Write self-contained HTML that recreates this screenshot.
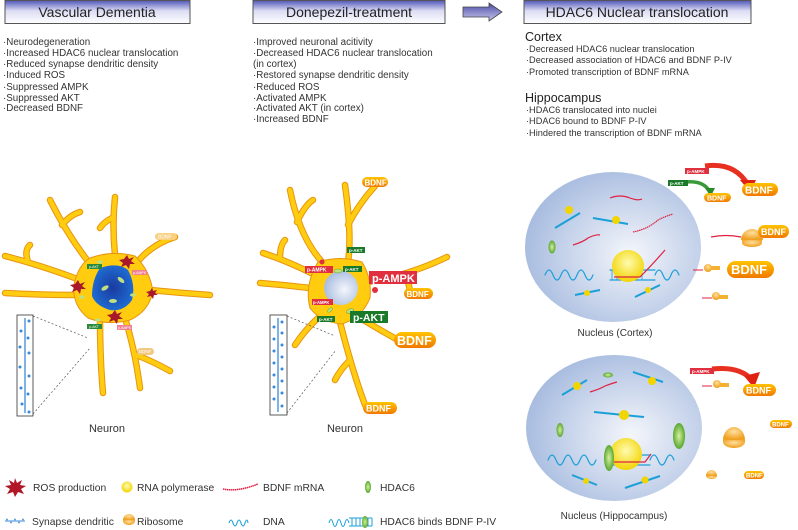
<!DOCTYPE html>
<html><head><meta charset="utf-8"><style>
html,body{margin:0;padding:0;background:#fff;}
svg{display:block;font-family:"Liberation Sans",sans-serif;}
</style></head><body>
<svg width="798" height="530" viewBox="0 0 798 530" xmlns="http://www.w3.org/2000/svg">
<defs>
<linearGradient id="hd" x1="0" y1="0" x2="0" y2="1"><stop offset="0" stop-color="#5058b8"/><stop offset="0.45" stop-color="#dcdcf4"/><stop offset="1" stop-color="#ffffff"/></linearGradient>
<linearGradient id="ar" x1="0" y1="0" x2="0" y2="1"><stop offset="0" stop-color="#4a4aa8"/><stop offset="1" stop-color="#c8c8ec"/></linearGradient>
<radialGradient id="nuc" cx="0.6" cy="0.55" r="0.6"><stop offset="0" stop-color="#f4f6fb"/><stop offset="1" stop-color="#a9bde0"/></radialGradient>
<radialGradient id="dn" cx="0.5" cy="0.5" r="0.5"><stop offset="0" stop-color="#1a3aa0"/><stop offset="1" stop-color="#1e6ad0"/></radialGradient>
<radialGradient id="pol" cx="0.5" cy="0.4" r="0.6"><stop offset="0" stop-color="#fffbb0"/><stop offset="1" stop-color="#f2d400"/></radialGradient>
<linearGradient id="bd" x1="0" y1="0" x2="0" y2="1"><stop offset="0" stop-color="#ffc400"/><stop offset="1" stop-color="#f07800"/></linearGradient>
<radialGradient id="rib" cx="0.5" cy="0.35" r="0.6"><stop offset="0" stop-color="#ffe0a0"/><stop offset="1" stop-color="#f0a020"/></radialGradient>
<radialGradient id="hd6" cx="0.5" cy="0.5" r="0.5"><stop offset="0" stop-color="#d8f0a0"/><stop offset="1" stop-color="#58a830"/></radialGradient>
</defs>

<rect x="5" y="0.5" width="185" height="23" fill="url(#hd)" stroke="#555"/>
<text x="97" y="17" font-size="14" text-anchor="middle" fill="#222">Vascular Dementia</text>
<rect x="253" y="0.5" width="192" height="23" fill="url(#hd)" stroke="#555"/>
<text x="349" y="17" font-size="14" text-anchor="middle" fill="#222">Donepezil-treatment</text>
<path d="M463 7 H489 V3 L502 12 L489 21 V17 H463 Z" fill="url(#ar)" stroke="#444" stroke-width="0.8"/>
<rect x="524" y="0.5" width="227" height="23" fill="url(#hd)" stroke="#555"/>
<text x="637" y="17" font-size="14" text-anchor="middle" fill="#222">HDAC6 Nuclear translocation</text>

<g font-size="9.8" fill="#333">
<text x="3" y="45">·Neurodegeneration</text>
<text x="3" y="56">·Increased HDAC6 nuclear translocation</text>
<text x="3" y="67">·Reduced synapse dendritic density</text>
<text x="3" y="78">·Induced ROS</text>
<text x="3" y="90">·Suppressed AMPK</text>
<text x="3" y="101">·Suppressed AKT</text>
<text x="3" y="111">·Decreased BDNF</text>
<text x="253" y="45">·Improved neuronal acitivity</text>
<text x="253" y="56">·Decreased HDAC6 nuclear translocation</text>
<text x="253" y="67"> (in cortex)</text>
<text x="253" y="78">·Restored synapse dendritic density</text>
<text x="253" y="90">·Reduced ROS</text>
<text x="253" y="101">·Activated AMPK</text>
<text x="253" y="111">·Activated AKT (in cortex)</text>
<text x="253" y="122">·Increased BDNF</text>
</g>
<g font-size="9.2" fill="#333">
<text x="526" y="52">·Decreased HDAC6 nuclear translocation</text>
<text x="526" y="63">·Decreased association of HDAC6 and BDNF P-IV</text>
<text x="526" y="75">·Promoted  transcription of BDNF mRNA</text>
<text x="526" y="113">·HDAC6 translocated into nuclei</text>
<text x="526" y="124">·HDAC6 bound to BDNF P-IV</text>
<text x="526" y="136">·Hindered the transcription of BDNF mRNA</text>
</g>
<text x="525" y="41" font-size="12.5" fill="#222">Cortex</text>
<text x="525" y="102" font-size="12.5" fill="#222">Hippocampus</text>

<!-- LEFT NEURON -->
<g fill="none" stroke-linecap="round" stroke-linejoin="round">
<g stroke="#e89410" stroke-width="6.5">
<path d="M95 270 Q70 240 50 200 M62 225 Q70 215 80 212 M80 280 Q40 265 5 256 M28 262 Q24 250 30 245 M78 295 Q40 295 5 293 M115 255 Q112 225 115 197 M112 218 Q104 222 100 228 M135 265 Q150 245 175 237 M150 290 Q180 293 210 295 M100 318 Q100 360 103 393 M125 318 Q135 350 140 388 M136 355 Q150 360 170 371"/>
</g>
<g stroke="#ffcc10" stroke-width="4.5">
<path d="M95 270 Q70 240 50 200 M62 225 Q70 215 80 212 M80 280 Q40 265 5 256 M28 262 Q24 250 30 245 M78 295 Q40 295 5 293 M115 255 Q112 225 115 197 M112 218 Q104 222 100 228 M135 265 Q150 245 175 237 M150 290 Q180 293 210 295 M100 318 Q100 360 103 393 M125 318 Q135 350 140 388 M136 355 Q150 360 170 371"/>
</g>
</g>
<path d="M90 258 Q112 250 135 256 Q150 270 153 292 Q148 312 130 320 Q108 326 88 318 Q72 305 74 285 Q78 265 90 258 Z" fill="#ffcc10" stroke="#e89410" stroke-width="1"/>
<path d="M100 268 Q118 262 128 270 Q136 285 132 300 Q124 312 110 310 Q96 306 92 296 Q92 280 100 268 Z" fill="url(#dn)"/>
<g fill="#bde080"><ellipse cx="105" cy="288" rx="4" ry="2" transform="rotate(-30 105 288)"/><ellipse cx="121" cy="280" rx="4" ry="2" transform="rotate(40 121 280)"/><ellipse cx="113" cy="301" rx="4" ry="2"/><ellipse cx="82" cy="297" rx="3" ry="1.6"/><ellipse cx="133" cy="295" rx="3" ry="1.6"/><ellipse cx="98" cy="320" rx="3" ry="1.6"/><ellipse cx="100" cy="262" rx="3" ry="1.6"/></g>
<g fill="#a8182a">
<polygon points="127,255 129,259 134,257 131,261 135,264 130,264 129,269 126,265 121,267 123,263 119,260 124,259"/>
<polygon points="78,280 80,284 85,282 82,286 86,289 81,289 80,294 77,290 72,292 74,288 70,285 75,284"/>
<polygon points="152,288 153,291 157,290 155,293 158,295 154,295 153,299 151,296 147,297 149,294 146,292 150,291"/>
<polygon points="115,310 117,314 122,312 119,316 123,319 118,319 117,324 114,320 109,322 111,318 107,315 112,314"/>
</g>
<g font-size="3.5" fill="#fff">
<rect x="87" y="264" width="15" height="5" fill="#2a8a3a"/><text x="89" y="268">p-AKT</text>
<rect x="132" y="270" width="15" height="5" fill="#f08090"/><text x="133" y="274">p-AMPK</text>
<rect x="87" y="324" width="15" height="5" fill="#2a8a3a"/><text x="89" y="328">p-AKT</text>
<rect x="117" y="325" width="15" height="5" fill="#f08090"/><text x="118" y="329">p-AMPK</text>
<rect x="155" y="233" width="22" height="7" rx="3.5" fill="#f8d080"/><text x="158" y="238.5" font-size="5">BDNF</text>
<rect x="137" y="348" width="17" height="7" rx="3.5" fill="#f0c880"/><text x="139" y="353" font-size="4.5">BDNF</text>
</g>
<rect x="17" y="315" width="16" height="101" fill="#fff" stroke="#333" stroke-width="0.8"/>
<path d="M25 318 V413" stroke="#3a8ad8" stroke-width="1.3"/>
<g fill="#3a8ad8"><circle cx="29" cy="321" r="1.5"/><circle cx="21" cy="331" r="1.5"/><circle cx="28" cy="338" r="1.5"/><circle cx="20" cy="347" r="1.5"/><circle cx="29" cy="353" r="1.5"/><circle cx="20" cy="367" r="1.5"/><circle cx="29" cy="376" r="1.5"/><circle cx="21" cy="388" r="1.5"/><circle cx="28" cy="394" r="1.5"/><circle cx="22" cy="404" r="1.5"/><circle cx="29" cy="412" r="1.5"/></g>
<path d="M33 316 L88 338 M33 414 L90 348" stroke="#555" stroke-width="0.7" stroke-dasharray="2,2"/>
<text x="107" y="432" font-size="11" fill="#333" text-anchor="middle">Neuron</text>

<!-- MIDDLE NEURON -->
<g fill="none" stroke-linecap="round" stroke-linejoin="round">
<g stroke="#e89410" stroke-width="6.5">
<path d="M325 265 Q300 240 290 190 M297 222 Q305 205 313 200 M348 262 Q352 235 345 185 M348 225 Q358 205 375 186 M315 275 Q290 262 263 253 M280 258 Q280 245 285 240 M310 288 Q285 285 260 283 M368 282 Q410 275 447 257 M405 275 Q410 285 410 294 M360 318 Q380 330 398 340 M340 322 Q352 370 365 405 M350 360 Q340 370 335 380 M318 318 Q305 330 295 345"/>
</g>
<g stroke="#ffcc10" stroke-width="4.5">
<path d="M325 265 Q300 240 290 190 M297 222 Q305 205 313 200 M348 262 Q352 235 345 185 M348 225 Q358 205 375 186 M315 275 Q290 262 263 253 M280 258 Q280 245 285 240 M310 288 Q285 285 260 283 M368 282 Q410 275 447 257 M405 275 Q410 285 410 294 M360 318 Q380 330 398 340 M340 322 Q352 370 365 405 M350 360 Q340 370 335 380 M318 318 Q305 330 295 345"/>
</g>
</g>
<path d="M318 262 Q340 255 362 262 Q372 278 370 298 Q362 318 342 324 Q320 322 310 308 Q304 285 318 262 Z" fill="#ffcc10" stroke="#e89410" stroke-width="1"/>
<circle cx="341" cy="288" r="17" fill="url(#nuc)"/>
<g fill="#bde080" stroke="#58a830" stroke-width="0.5"><ellipse cx="338" cy="271" rx="4" ry="2"/><ellipse cx="330" cy="310" rx="3" ry="1.5" transform="rotate(-40 330 310)"/><ellipse cx="350" cy="311" rx="4" ry="2" transform="rotate(-20 350 311)"/></g>
<g fill="#e03040"><circle cx="322" cy="262" r="2.5"/><circle cx="375" cy="290" r="3"/></g>
<g fill="#fff" font-weight="bold">
<rect x="347" y="247" width="18" height="6" fill="#1a7a2a"/><text x="349" y="252" font-size="4.5">p-AKT</text>
<rect x="305" y="266" width="28" height="7" fill="#e03040"/><text x="307" y="271.5" font-size="5">p-AMPK</text>
<rect x="343" y="266" width="19" height="6" fill="#1a7a2a"/><text x="345" y="271" font-size="4.5">p-AKT</text>
<rect x="369" y="271" width="48" height="13" fill="#e03040"/><text x="372" y="282" font-size="11">p-AMPK</text>
<rect x="312" y="299" width="21" height="6" fill="#e03040"/><text x="313" y="304" font-size="4.2">p-AMPK</text>
<rect x="317" y="316" width="18" height="6" fill="#1a7a2a"/><text x="319" y="321" font-size="4.5">p-AKT</text>
<rect x="350" y="311" width="38" height="12" fill="#1a7a2a"/><text x="353" y="321" font-size="10.5">p-AKT</text>
<rect x="362" y="177" width="26" height="10" rx="5" fill="url(#bd)"/><text x="364.5" y="185.5" font-size="8">BDNF</text>
<rect x="404" y="288" width="29" height="11" rx="5.5" fill="url(#bd)"/><text x="406.5" y="297" font-size="8">BDNF</text>
<rect x="394" y="332" width="42" height="16" rx="8" fill="url(#bd)"/><text x="397" y="345" font-size="12.5">BDNF</text>
<rect x="363" y="402" width="34" height="12" rx="6" fill="url(#bd)"/><text x="366" y="411.5" font-size="9">BDNF</text>
</g>
<rect x="270" y="315" width="17" height="100" fill="#fff" stroke="#333" stroke-width="0.8"/>
<path d="M278 318 V412" stroke="#3a8ad8" stroke-width="1.3"/>
<g fill="#3a8ad8"><circle cx="282" cy="322" r="1.5"/><circle cx="274" cy="327" r="1.5"/><circle cx="282" cy="333" r="1.5"/><circle cx="274" cy="339" r="1.5"/><circle cx="282" cy="345" r="1.5"/><circle cx="274" cy="351" r="1.5"/><circle cx="282" cy="357" r="1.5"/><circle cx="274" cy="363" r="1.5"/><circle cx="282" cy="369" r="1.5"/><circle cx="274" cy="375" r="1.5"/><circle cx="282" cy="381" r="1.5"/><circle cx="274" cy="387" r="1.5"/><circle cx="282" cy="393" r="1.5"/><circle cx="274" cy="399" r="1.5"/><circle cx="282" cy="406" r="1.5"/></g>
<path d="M287 316 L335 336 M287 413 L336 350" stroke="#555" stroke-width="0.7" stroke-dasharray="2,2"/>
<text x="345" y="432" font-size="11" fill="#333" text-anchor="middle">Neuron</text>

<!-- CORTEX NUCLEUS -->
<ellipse cx="613" cy="247" rx="88" ry="75" fill="url(#nuc)"/>
<g fill="none" stroke-linecap="round">
<path d="M545 275 q4 -10 8 0 q4 10 8 0 q4 -10 8 0 q4 10 8 0 q4 -10 8 0 q4 10 8 0 M610 270 H655 M610 280 H655 M655 275 q4 -10 8 0 q4 10 8 0 q4 -10 8 0" stroke="#1aa0d8" stroke-width="1.2"/>
<path d="M612 270 V280 M617 270 V280 M622 270 V280 M627 270 V280 M632 270 V280 M637 270 V280 M642 270 V280" stroke="#1aa0d8" stroke-width="0.8"/>
</g>
<circle cx="628" cy="266" r="16" fill="url(#pol)"/>
<path d="M614 277 H640 Q652 265 665 250" stroke="#e02040" stroke-width="1.2" fill="none"/>
<g stroke="#e02040" stroke-width="1.2" fill="none">
<path d="M610 198 q10 -4 20 0 q8 3 12 1"/><path d="M573 245 q10 -3 15 -7 q8 -4 12 -3"/><path d="M633 232 q15 -3 25 -12 q8 -4 15 -6" stroke-dasharray="1.5,0.6"/>
</g>
<ellipse cx="552" cy="247" rx="3.5" ry="6.5" fill="url(#hd6)"/>
<g stroke="#1aa0d8" stroke-width="2" fill="none"><path d="M555 228 l25 -15"/><path d="M593 218 l35 6"/><path d="M575 295 l25 -5"/><path d="M635 297 l25 -12"/></g>
<circle cx="569" cy="210" r="4" fill="#f2d400"/><circle cx="616" cy="220" r="4" fill="#f2d400"/><circle cx="587" cy="293" r="3" fill="#f2d400"/><circle cx="648" cy="290" r="3" fill="#f2d400"/>
<text x="615" y="336" font-size="10" fill="#333" text-anchor="middle">Nucleus (Cortex)</text>

<path d="M705 166 Q735 162 748 185" stroke="#e83020" stroke-width="5" fill="none"/>
<path d="M740 180 L756 180 L750 192 Z" fill="#e02010"/>
<path d="M685 182 Q705 180 710 193" stroke="#3a9a3a" stroke-width="3.5" fill="none"/>
<path d="M705 188 L715 188 L711 196 Z" fill="#2a8a2a"/>
<g fill="#fff" font-weight="bold">
<rect x="685" y="168" width="24" height="6" fill="#e03040"/><text x="687" y="173" font-size="4.5">p-AMPK</text>
<rect x="668" y="180" width="20" height="6" fill="#1a7a2a"/><text x="670" y="185" font-size="4.5">p-AKT</text>
<rect x="742" y="183" width="36" height="13" rx="6.5" fill="url(#bd)"/><text x="745" y="193.5" font-size="10">BDNF</text>
<rect x="704" y="193" width="27" height="9" rx="4.5" fill="url(#bd)"/><text x="707" y="200.5" font-size="7">BDNF</text>
</g>
<path d="M711 237 q15 -3 30 0" stroke="#e02040" stroke-width="1.2" fill="none"/>
<path d="M741 240 a11 11 0 0 1 22 0 Z" fill="url(#rib)"/><path d="M742 240 h20 v3 a10 4 0 0 1 -20 0 Z" fill="url(#rib)"/>
<rect x="758" y="225" width="31" height="13" rx="6.5" fill="url(#bd)"/><text x="761" y="235" font-size="9" fill="#fff" font-weight="bold">BDNF</text>
<path d="M693 270 h10" stroke="#e02040" stroke-width="1"/><circle cx="708" cy="268" r="4" fill="url(#rib)"/><rect x="711" y="266" width="9" height="4" fill="#f4b030"/>
<rect x="727" y="261" width="47" height="17" rx="8.5" fill="url(#bd)"/><text x="731" y="274" font-size="13" fill="#fff" font-weight="bold">BDNF</text>
<path d="M702 298 h10" stroke="#e02040" stroke-width="1"/><circle cx="716" cy="296" r="4" fill="url(#rib)"/><rect x="719" y="295" width="9" height="4" fill="#f4b030"/>

<!-- HIPPOCAMPUS NUCLEUS -->
<ellipse cx="614" cy="428" rx="88" ry="73" fill="url(#nuc)"/>
<g fill="none" stroke-linecap="round">
<path d="M548 460 q4 -10 8 0 q4 10 8 0 q4 -10 8 0 q4 10 8 0 q4 -10 8 0 q4 10 8 0 M612 455 H650 M612 465 H650 M650 460 q4 -10 8 0 q4 10 8 0 q4 -10 8 0" stroke="#1aa0d8" stroke-width="1.2"/>
</g>
<circle cx="626" cy="454" r="16" fill="url(#pol)"/>
<path d="M614 462 H645 l6 -8" stroke="#e02040" stroke-width="1.2" fill="none"/>
<ellipse cx="609" cy="458" rx="5" ry="13" fill="url(#hd6)"/>
<ellipse cx="560" cy="430" rx="3.5" ry="7" fill="url(#hd6)"/>
<ellipse cx="679" cy="436" rx="6" ry="13" fill="url(#hd6)"/>
<ellipse cx="608" cy="375" rx="5" ry="2.5" fill="url(#hd6)"/>
<path d="M590 392 q10 -3 15 -6 q8 -3 12 -4" stroke="#e02040" stroke-width="1.2" fill="none"/>
<g stroke="#1aa0d8" stroke-width="2" fill="none"><path d="M562 395 l25 -15"/><path d="M633 372 l30 10"/><path d="M594 412 l50 5"/><path d="M572 475 l25 10"/><path d="M625 488 l35 -12"/></g>
<circle cx="577" cy="386" r="4" fill="#f2d400"/><circle cx="652" cy="381" r="4" fill="#f2d400"/><circle cx="624" cy="415" r="5" fill="#f2d400"/><circle cx="586" cy="481" r="3" fill="#f2d400"/><circle cx="645" cy="480" r="3.5" fill="#f2d400"/>
<text x="614" y="519" font-size="10" fill="#333" text-anchor="middle">Nucleus (Hippocampus)</text>
<path d="M712 369 Q740 366 752 380" stroke="#e83020" stroke-width="5" fill="none"/>
<path d="M744 376 L760 372 L754 388 Z" fill="#e02010"/>
<rect x="690" y="368" width="24" height="6" fill="#e03040"/><text x="692" y="373" font-size="4.5" fill="#fff" font-weight="bold">p-AMPK</text>
<rect x="743" y="384" width="33" height="12" rx="6" fill="url(#bd)"/><text x="746" y="393.5" font-size="9" fill="#fff" font-weight="bold">BDNF</text>
<path d="M702 386 h10" stroke="#e02040" stroke-width="1"/><circle cx="717" cy="384" r="4" fill="url(#rib)"/><rect x="720" y="383" width="9" height="4" fill="#f4b030"/>
<rect x="770" y="420" width="22" height="8" rx="4" fill="url(#bd)"/><text x="772" y="426.5" font-size="6" fill="#fff" font-weight="bold">BDNF</text>
<path d="M723 440 a11 13 0 0 1 22 0 Z" fill="url(#rib)"/><path d="M723 440 h22 v2 a11 6 0 0 1 -22 0 Z" fill="url(#rib)"/>
<path d="M706 476 a5.5 6 0 0 1 11 0 Z" fill="url(#rib)"/><path d="M706 476 h11 a5.5 3 0 0 1 -11 0 Z" fill="url(#rib)"/>
<rect x="744" y="471" width="20" height="8" rx="4" fill="url(#bd)"/><text x="746" y="477.5" font-size="6" fill="#fff" font-weight="bold">BDNF</text>

<!-- LEGEND -->
<polygon points="15,478 17,483 22,480 20,485 26,486 21,489 24,494 18,492 15,497 13,492 7,494 10,489 5,486 11,485 9,480 14,483" fill="#b01828"/>
<text x="33" y="491" font-size="10.3" fill="#333">ROS production</text>
<circle cx="127" cy="487" r="5.5" fill="url(#pol)"/>
<text x="137" y="491" font-size="10.3" fill="#333">RNA polymerase</text>
<path d="M223 489 q15 3 35 -5" stroke="#e02040" stroke-width="1.5" fill="none" stroke-dasharray="1.5,0.5"/>
<text x="263" y="491" font-size="10.3" fill="#333">BDNF mRNA</text>
<ellipse cx="368" cy="487" rx="3" ry="6" fill="url(#hd6)"/>
<text x="380" y="491" font-size="10.3" fill="#333">HDAC6</text>
<path d="M5 521 H25" stroke="#3a8ad8" stroke-width="1"/>
<g fill="#3a8ad8"><circle cx="7" cy="519.5" r="0.9"/><circle cx="11" cy="522.5" r="0.9"/><circle cx="15" cy="519.5" r="0.9"/><circle cx="19" cy="522.5" r="0.9"/><circle cx="23" cy="519.5" r="0.9"/></g>
<text x="32" y="525" font-size="10.3" fill="#333">Synapse dendritic</text>
<path d="M123 520 a6 6 0 0 1 12 0 Z" fill="url(#rib)"/><path d="M123 520 h12 v1 a6 4 0 0 1 -12 0 Z" fill="url(#rib)"/>
<text x="137" y="525" font-size="10.3" fill="#333">Ribosome</text>
<path d="M229 523 q2 -6 4 0 q2 6 4 0 q2 -6 4 0 q2 6 4 0 q2 -6 3 0" stroke="#1aa0d8" stroke-width="1.1" fill="none"/>
<text x="263" y="525" font-size="10.3" fill="#333">DNA</text>
<path d="M329 523 q2 -7 4 0 q2 7 4 0 q2 -7 4 0 q2 7 4 0 q2 -7 4 0 M349 518 H372 M349 526 H372 M352 518 V526 M356 518 V526 M360 518 V526 M368 518 V526 M372 518 V526" stroke="#1aa0d8" stroke-width="1" fill="none"/>
<ellipse cx="365" cy="522" rx="3" ry="6" fill="url(#hd6)"/>
<text x="380" y="525" font-size="10.3" fill="#333">HDAC6 binds BDNF P-IV</text>
</svg>
</body></html>
